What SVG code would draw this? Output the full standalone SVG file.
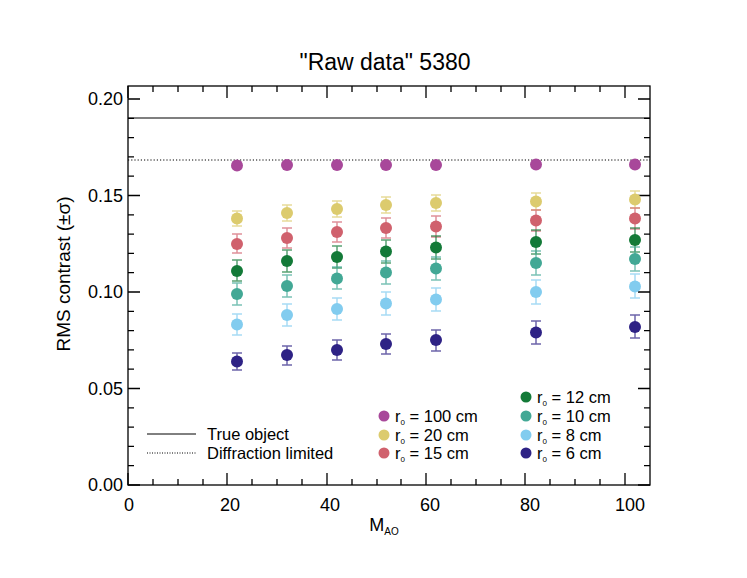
<svg xmlns="http://www.w3.org/2000/svg" width="747" height="578" viewBox="0 0 747 578">
<style>
text{font-family:"Liberation Sans",Arial,sans-serif;fill:#000}
.tk{font-size:18px}
.lg{font-size:16.5px}
.ax{stroke:#000;stroke-width:1.3;fill:none}
.eb{stroke-width:1.5;fill:none;opacity:0.7}
</style>
<rect width="747" height="578" fill="#fff"/>
<text x="385" y="70" font-size="23" text-anchor="middle">"Raw data" 5380</text>
<g id="axes">
<rect class="ax" x="128" y="86" width="522" height="399"/>
<path class="ax" d="M128,485v-12M153,485v-6M178,485v-6M203,485v-6M227,485v-12M252,485v-6M277,485v-6M302,485v-6M327,485v-12M352,485v-6M377,485v-6M401,485v-6M426,485v-12M451,485v-6M476,485v-6M501,485v-6M525,485v-12M550,485v-6M575,485v-6M600,485v-6M625,485v-12
M128,86v12M153,86v6M178,86v6M203,86v6M227,86v12M252,86v6M277,86v6M302,86v6M327,86v12M352,86v6M377,86v6M401,86v6M426,86v12M451,86v6M476,86v6M501,86v6M525,86v12M550,86v6M575,86v6M600,86v6M625,86v12
M128,485h12M128,388.5h12M128,292h12M128,195.5h12M128,99h12
M650,485h-12M650,388.5h-12M650,292h-12M650,195.5h-12M650,99h-12
M128,465.7h6M128,446.4h6M128,427.1h6M128,407.8h6M128,369.2h6M128,349.9h6M128,330.6h6M128,311.3h6M128,272.7h6M128,253.4h6M128,234.1h6M128,214.8h6M128,176.2h6M128,156.9h6M128,137.6h6M128,118.3h6
M650,465.7h-6M650,446.4h-6M650,427.1h-6M650,407.8h-6M650,369.2h-6M650,349.9h-6M650,330.6h-6M650,311.3h-6M650,272.7h-6M650,253.4h-6M650,234.1h-6M650,214.8h-6M650,176.2h-6M650,156.9h-6M650,137.6h-6M650,118.3h-6"/>
<g class="tk" text-anchor="end">
<text x="123" y="491">0.00</text><text x="123" y="395">0.05</text><text x="123" y="298">0.10</text><text x="123" y="202">0.15</text><text x="123" y="105">0.20</text>
</g>
<g class="tk" text-anchor="middle">
<text x="129" y="511">0</text><text x="230" y="511">20</text><text x="330" y="511">40</text><text x="430" y="511">60</text><text x="530" y="511">80</text><text x="630" y="511">100</text>
</g>
<text x="384" y="531" font-size="18" text-anchor="middle">M<tspan font-size="10" dy="4">AO</tspan></text>
<text transform="translate(70,274) rotate(-90)" font-size="19" text-anchor="middle">RMS contrast (±σ)</text>
</g>
<g id="reference-lines">
<line x1="128" y1="118" x2="650" y2="118" stroke="#000" stroke-width="1.2"/>
<line x1="128" y1="160" x2="650" y2="160" stroke="#000" stroke-width="1" stroke-dasharray="1.2,2"/>
</g>
<g id="errorbars">
<path class="eb" stroke="#dccb6e" d="M237,211v15M232,211h10M232,226h10M287,205v16M282,205h10M282,221h10M337,201v16M332,201h10M332,217h10M386,197v16M381,197h10M381,213h10M436,195v16M431,195h10M431,211h10M536,193v17M531,193h10M531,210h10M635,191v17M630,191h10M630,208h10"/>
<path class="eb" stroke="#d0616d" d="M237,234v19M232,234h10M232,253h10M287,228v20M282,228h10M282,248h10M337,222v20M332,222h10M332,242h10M386,218v20M381,218h10M381,238h10M436,216v21M431,216h10M431,237h10M536,210v21M531,210h10M531,231h10M635,208v21M630,208h10M630,229h10"/>
<path class="eb" stroke="#137a38" d="M237,260v21M232,260h10M232,281h10M287,250v22M282,250h10M282,272h10M337,246v22M332,246h10M332,268h10M386,240v23M381,240h10M381,263h10M436,236v23M431,236h10M431,259h10M536,230v24M531,230h10M531,254h10M635,228v24M630,228h10M630,252h10"/>
<path class="eb" stroke="#42a895" d="M237,283v22M232,283h10M232,305h10M287,275v22M282,275h10M282,297h10M337,267v22M332,267h10M332,289h10M386,261v23M381,261h10M381,284h10M436,257v23M431,257h10M431,280h10M536,251v24M531,251h10M531,275h10M635,247v24M630,247h10M630,271h10"/>
<path class="eb" stroke="#82ccef" d="M237,314v21M232,314h10M232,335h10M287,304v22M282,304h10M282,326h10M337,298v22M332,298h10M332,320h10M386,292v23M381,292h10M381,315h10M436,288v23M431,288h10M431,311h10M536,280v24M531,280h10M531,304h10M635,274v24M630,274h10M630,298h10"/>
<path class="eb" stroke="#2e2285" d="M237,353v17M232,353h10M232,370h10M287,346v19M282,346h10M282,365h10M337,340v20M332,340h10M332,360h10M386,334v20M381,334h10M381,354h10M436,330v21M431,330h10M431,351h10M536,321v23M531,321h10M531,344h10M635,315v23M630,315h10M630,338h10"/>
</g>
<g id="points">
<g fill="#a8489a"><circle cx="237" cy="165.5" r="6"/><circle cx="287" cy="165" r="6"/><circle cx="337" cy="165" r="6"/><circle cx="386" cy="165" r="6"/><circle cx="436" cy="165" r="6"/><circle cx="536" cy="164.5" r="6"/><circle cx="635" cy="164.5" r="6"/></g>
<g fill="#dccb6e"><circle cx="237" cy="218.5" r="6"/><circle cx="287" cy="213" r="6"/><circle cx="337" cy="209" r="6"/><circle cx="386" cy="205" r="6"/><circle cx="436" cy="203" r="6"/><circle cx="536" cy="201.5" r="6"/><circle cx="635" cy="199.5" r="6"/></g>
<g fill="#d0616d"><circle cx="237" cy="244" r="6"/><circle cx="287" cy="238" r="6"/><circle cx="337" cy="232" r="6"/><circle cx="386" cy="228" r="6"/><circle cx="436" cy="226.5" r="6"/><circle cx="536" cy="220.5" r="6"/><circle cx="635" cy="218.5" r="6"/></g>
<g fill="#137a38"><circle cx="237" cy="271" r="6"/><circle cx="287" cy="261" r="6"/><circle cx="337" cy="257" r="6"/><circle cx="386" cy="251.5" r="6"/><circle cx="436" cy="247.5" r="6"/><circle cx="536" cy="242" r="6"/><circle cx="635" cy="240" r="6"/></g>
<g fill="#42a895"><circle cx="237" cy="294" r="6"/><circle cx="287" cy="286" r="6"/><circle cx="337" cy="278.5" r="6"/><circle cx="386" cy="272.5" r="6"/><circle cx="436" cy="268.5" r="6"/><circle cx="536" cy="263" r="6"/><circle cx="635" cy="259" r="6"/></g>
<g fill="#82ccef"><circle cx="237" cy="324.5" r="6"/><circle cx="287" cy="315" r="6"/><circle cx="337" cy="309" r="6"/><circle cx="386" cy="303.5" r="6"/><circle cx="436" cy="299.5" r="6"/><circle cx="536" cy="292" r="6"/><circle cx="635" cy="286.5" r="6"/></g>
<g fill="#2e2285"><circle cx="237" cy="361.5" r="6"/><circle cx="287" cy="355" r="6"/><circle cx="337" cy="350" r="6"/><circle cx="386" cy="344" r="6"/><circle cx="436" cy="340" r="6"/><circle cx="536" cy="332.5" r="6"/><circle cx="635" cy="327" r="6"/></g>
</g>
<g id="legend" class="lg">
<line x1="147" y1="434" x2="196" y2="434" stroke="#000" stroke-width="1"/>
<line x1="147" y1="453" x2="196" y2="453" stroke="#000" stroke-width="1" stroke-dasharray="1,1.5"/>
<text x="207" y="440">True object</text>
<text x="207" y="459">Diffraction limited</text>
<circle cx="384" cy="416" r="5.5" fill="#a8489a"/><circle cx="384" cy="435" r="5.5" fill="#dccb6e"/><circle cx="384" cy="453" r="5.5" fill="#d0616d"/>
<text x="395" y="422">r<tspan font-size="8" dy="3">0</tspan><tspan dy="-3"> = 100 cm</tspan></text>
<text x="395" y="441">r<tspan font-size="8" dy="3">0</tspan><tspan dy="-3"> = 20 cm</tspan></text>
<text x="395" y="459">r<tspan font-size="8" dy="3">0</tspan><tspan dy="-3"> = 15 cm</tspan></text>
<circle cx="526" cy="397" r="5.5" fill="#137a38"/><circle cx="526" cy="416" r="5.5" fill="#42a895"/><circle cx="526" cy="435" r="5.5" fill="#82ccef"/><circle cx="526" cy="453" r="5.5" fill="#2e2285"/>
<text x="537" y="403">r<tspan font-size="8" dy="3">0</tspan><tspan dy="-3"> = 12 cm</tspan></text>
<text x="537" y="422">r<tspan font-size="8" dy="3">0</tspan><tspan dy="-3"> = 10 cm</tspan></text>
<text x="537" y="441">r<tspan font-size="8" dy="3">0</tspan><tspan dy="-3"> = 8 cm</tspan></text>
<text x="537" y="459">r<tspan font-size="8" dy="3">0</tspan><tspan dy="-3"> = 6 cm</tspan></text>
</g>
</svg>
